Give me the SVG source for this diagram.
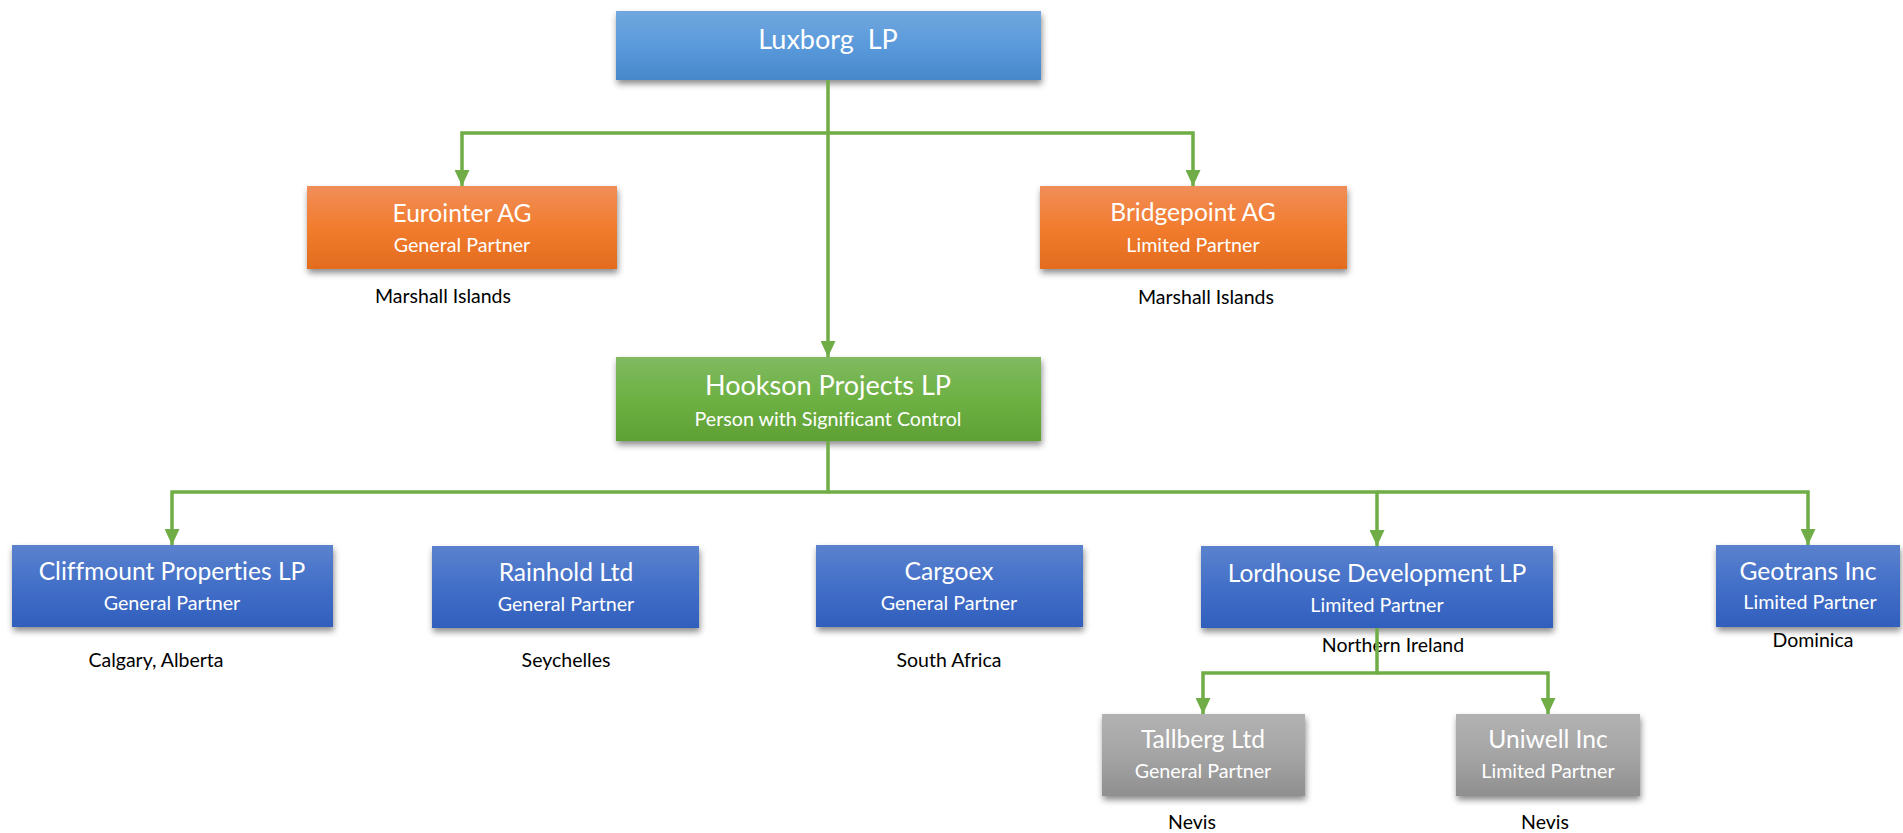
<svg xmlns="http://www.w3.org/2000/svg" width="1903" height="833" viewBox="0 0 1903 833">
<style>
.t{font-family:Lato,"Open Sans",sans-serif;fill:#fff;text-anchor:middle;font-variant-ligatures:none}
.big{font-size:27px}
.mid{font-size:24.6px}
.sub{font-size:19.7px}
.lbl{font-family:Lato,"Open Sans",sans-serif;fill:#000;text-anchor:middle;font-size:19.5px;font-variant-ligatures:none}
.con{fill:none;stroke:#70AD47;stroke-width:3.5;stroke-linejoin:miter}
</style>
<defs>
<linearGradient id="gLb" x1="0" y1="0" x2="0" y2="1"><stop offset="0" stop-color="#71A7DE"/><stop offset="0.5" stop-color="#5A9ADB"/><stop offset="1" stop-color="#4788CA"/></linearGradient>
<linearGradient id="gOr" x1="0" y1="0" x2="0" y2="1"><stop offset="0" stop-color="#F08E59"/><stop offset="0.5" stop-color="#F27C2E"/><stop offset="1" stop-color="#E36C1E"/></linearGradient>
<linearGradient id="gGr" x1="0" y1="0" x2="0" y2="1"><stop offset="0" stop-color="#80B961"/><stop offset="0.5" stop-color="#6DB143"/><stop offset="1" stop-color="#5FA035"/></linearGradient>
<linearGradient id="gBl" x1="0" y1="0" x2="0" y2="1"><stop offset="0" stop-color="#5B82CD"/><stop offset="0.5" stop-color="#426FC8"/><stop offset="1" stop-color="#315FBD"/></linearGradient>
<linearGradient id="gGy" x1="0" y1="0" x2="0" y2="1"><stop offset="0" stop-color="#B2B2B2"/><stop offset="0.5" stop-color="#A5A5A5"/><stop offset="1" stop-color="#8F8F8F"/></linearGradient>
<filter id="sh" x="-10%" y="-20%" width="120%" height="150%"><feDropShadow dx="1" dy="4" stdDeviation="3" flood-color="#000" flood-opacity="0.45"/></filter>
<marker id="ar" viewBox="0 0 16 15" refX="16" refY="7.5" markerWidth="16" markerHeight="15" markerUnits="userSpaceOnUse" orient="auto"><path d="M0,0 L16,7.5 L0,15 Z" fill="#70AD47"/></marker>
</defs>

<g id="luxborg">
<rect x="616" y="11" width="425" height="69" fill="url(#gLb)" filter="url(#sh)"/>
<text class="t big" x="828" y="49" xml:space="preserve">Luxborg  LP</text>
</g>

<g id="eurointer">
<rect x="307" y="186" width="310" height="83" fill="url(#gOr)" filter="url(#sh)"/>
<text class="t mid" x="462" y="222">Eurointer AG</text>
<text class="t sub" x="462" y="252">General Partner</text>
<text class="lbl" x="443" y="303">Marshall Islands</text>
</g>

<g id="bridgepoint">
<rect x="1040" y="186" width="307" height="83" fill="url(#gOr)" filter="url(#sh)"/>
<text class="t mid" x="1193" y="221">Bridgepoint AG</text>
<text class="t sub" x="1193" y="252">Limited Partner</text>
<text class="lbl" x="1206" y="304">Marshall Islands</text>
</g>

<g id="hookson">
<rect x="616" y="357" width="425" height="84" fill="url(#gGr)" filter="url(#sh)"/>
<text class="t big" x="828" y="395">Hookson Projects LP</text>
<text class="t sub" x="828" y="426">Person with Significant Control</text>
</g>

<g id="cliffmount">
<rect x="12" y="545" width="321" height="82" fill="url(#gBl)" filter="url(#sh)"/>
<text class="t mid" x="172" y="580">Cliffmount Properties LP</text>
<text class="t sub" x="172" y="610">General Partner</text>
<text class="lbl" x="156" y="667">Calgary, Alberta</text>
</g>

<g id="rainhold">
<rect x="432" y="546" width="267" height="82" fill="url(#gBl)" filter="url(#sh)"/>
<text class="t mid" x="566" y="581">Rainhold Ltd</text>
<text class="t sub" x="566" y="611">General Partner</text>
<text class="lbl" x="566" y="667">Seychelles</text>
</g>

<g id="cargoex">
<rect x="816" y="545" width="267" height="82" fill="url(#gBl)" filter="url(#sh)"/>
<text class="t mid" x="949" y="580">Cargoex</text>
<text class="t sub" x="949" y="610">General Partner</text>
<text class="lbl" x="949" y="667">South Africa</text>
</g>

<g id="lordhouse">
<rect x="1201" y="546" width="352" height="82" fill="url(#gBl)" filter="url(#sh)"/>
<text class="t mid" x="1377" y="582">Lordhouse Development LP</text>
<text class="t sub" x="1377" y="612">Limited Partner</text>
<text class="lbl" x="1393" y="652">Northern Ireland</text>
</g>

<g id="geotrans">
<rect x="1716" y="545" width="184" height="82" fill="url(#gBl)" filter="url(#sh)"/>
<text class="t mid" x="1808" y="580">Geotrans Inc</text>
<text class="t sub" x="1810" y="609">Limited Partner</text>
<text class="lbl" x="1813" y="647">Dominica</text>
</g>

<g id="tallberg">
<rect x="1102" y="714" width="203" height="82" fill="url(#gGy)" filter="url(#sh)"/>
<text class="t mid" x="1203" y="748">Tallberg Ltd</text>
<text class="t sub" x="1203" y="778">General Partner</text>
<text class="lbl" x="1192" y="829">Nevis</text>
</g>

<g id="uniwell">
<rect x="1456" y="714" width="184" height="82" fill="url(#gGy)" filter="url(#sh)"/>
<text class="t mid" x="1548" y="748">Uniwell Inc</text>
<text class="t sub" x="1548" y="778">Limited Partner</text>
<text class="lbl" x="1545" y="829">Nevis</text>
</g>

<g id="connectors">
<path class="con" d="M828,80 V357" marker-end="url(#ar)"/>
<path class="con" d="M828,133 H462 V186" marker-end="url(#ar)"/>
<path class="con" d="M828,133 H1193 V186" marker-end="url(#ar)"/>
<path class="con" d="M828,441 V492 H172 V545" marker-end="url(#ar)"/>
<path class="con" d="M828,492 H1377 V546" marker-end="url(#ar)"/>
<path class="con" d="M1377,492 H1808 V545" marker-end="url(#ar)"/>
<path class="con" d="M1377,628 V673 H1203 V714" marker-end="url(#ar)"/>
<path class="con" d="M1377,673 H1548 V714" marker-end="url(#ar)"/>
</g>
</svg>
